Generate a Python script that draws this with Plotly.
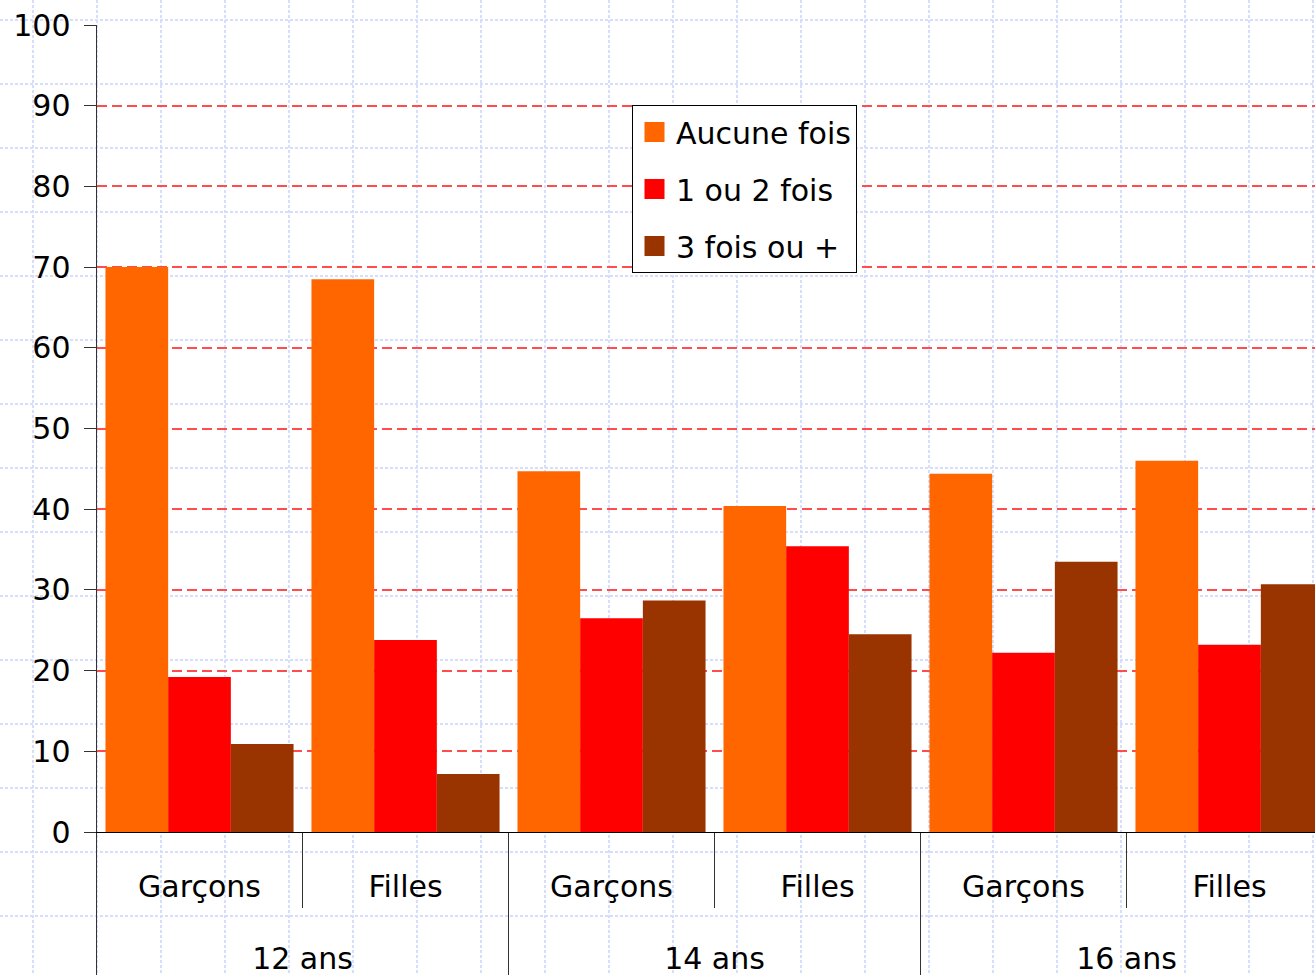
import plotly.graph_objects as go

# Survey shares (%) by age group and sex
ages = ["12 ans", "14 ans", "16 ans"]
sexes = ["Garçons", "Filles"]
aucune_fois = [70.0, 68.5, 44.7, 40.4, 44.4, 46.0]
une_deux_fois = [19.2, 23.8, 26.5, 35.4, 22.2, 23.2]
trois_fois_plus = [10.9, 7.2, 28.7, 24.5, 33.5, 30.7]

series_names = ["Aucune fois", "1 ou 2 fois", "3 fois ou +"]
series_values = [aucune_fois, une_deux_fois, trois_fois_plus]
colors = ["#ff6600", "#ff0000", "#993300"]

W, H = 1315, 975
FONT = "DejaVu Sans"
AXIS_GRAY = "#333333"

x_cat = [[a for a in ages for _ in sexes], [s for _ in ages for s in sexes]]
n_cat = len(x_cat[0])
n_sex = len(sexes)
inner_pos = list(range(n_cat))
inner_text = x_cat[1]
outer_pos = [i * n_sex + (n_sex - 1) / 2 for i in range(len(ages))]
inner_div = [i * n_sex + j + 0.5 for i in range(len(ages)) for j in range(n_sex - 1)]
outer_div = [i * n_sex - 0.5 for i in range(len(ages) + 1)]

# plot area starts at x=96.5 px, one category spans 206 px; the last one runs past the edge
X0_PX, CAT_PX = 96.5, 206.0
x_range = [-0.5, -0.5 + (W - X0_PX) / CAT_PX]

fig = go.Figure()

for name, vals, col in zip(series_names, series_values, colors):
    fig.add_trace(go.Bar(
        x=x_cat, y=vals, name=name, marker=dict(color=col, line=dict(width=0)),
        xaxis="x2", yaxis="y2", showlegend=False,
    ))

# legend entries with larger square swatches
for i, (name, col) in enumerate(zip(series_names, colors)):
    fig.add_trace(go.Scatter(
        x=[None], y=[None], mode="markers", name=name, legendgroup=f"g{i}",
        marker=dict(symbol="square", size=16, color=col, line=dict(color=col, width=4)),
        xaxis="x", yaxis="y", showlegend=True,
    ))

# empty traces so the two label axes get their own subplots
for xa in ("x3", "x4"):
    fig.add_trace(go.Scatter(x=[None], y=[None], mode="markers", xaxis=xa, yaxis="y2",
                             showlegend=False, hoverinfo="skip"))

paper_grid = dict(showgrid=True, gridcolor="#d6defc", gridwidth=1.5, griddash="3px,2px",
                  showticklabels=False, zeroline=False, showline=False,
                  fixedrange=True, automargin=False)

fig.update_layout(
    template="none",
    width=W, height=H,
    margin=dict(l=0, r=0, t=0, b=0, autoexpand=False),
    paper_bgcolor="white", plot_bgcolor="rgba(0,0,0,0)",
    font=dict(family=FONT, size=30, color="black"),
    barmode="group", bargap=0.087, bargroupgap=0,
    # page-wide graph-paper grid
    xaxis=dict(domain=[0, 1], range=[0, W], tick0=33, dtick=64, **paper_grid),
    yaxis=dict(domain=[0, 1], range=[H, 0], tick0=20, dtick=64, **paper_grid),
    # data axis (labels drawn by the overlay axes below)
    xaxis2=dict(type="multicategory", domain=[X0_PX / W, 1], anchor="y2",
                range=x_range, showline=True, linecolor="black", linewidth=1,
                showgrid=False, showticklabels=False, ticks="",
                showdividers=False, automargin=False),
    # first label row: sex, with short separators
    xaxis3=dict(overlaying="x2", anchor="y2", range=x_range, side="bottom",
                tickmode="array", tickvals=inner_pos, ticktext=inner_text,
                ticks="", ticklabelstandoff=34,
                tickfont=dict(size=30, family=FONT, color="black"),
                minor=dict(tickvals=inner_div, ticks="outside", ticklen=75,
                           tickcolor=AXIS_GRAY, tickwidth=1, showgrid=False),
                showgrid=False, showline=False, zeroline=False, automargin=False),
    # second label row: age group, with full-height separators
    xaxis4=dict(overlaying="x2", anchor="y2", range=x_range, side="bottom",
                tickmode="array", tickvals=outer_pos, ticktext=ages,
                ticks="", ticklabelstandoff=106,
                tickfont=dict(size=30, family=FONT, color="black"),
                minor=dict(tickvals=outer_div, ticks="outside", ticklen=160,
                           tickcolor=AXIS_GRAY, tickwidth=1, showgrid=False),
                showgrid=False, showline=False, zeroline=False, automargin=False),
    yaxis2=dict(domain=[(H - 832) / H, (H - 25) / H], anchor="x2", range=[0, 100],
                dtick=10, showgrid=True, gridcolor="#ff4d4d",
                griddash="10px,5px", gridwidth=1.5, zeroline=False,
                showline=True, linecolor=AXIS_GRAY, linewidth=1,
                ticks="outside", ticklen=12, tickcolor=AXIS_GRAY,
                ticklabelstandoff=7, automargin=False,
                tickfont=dict(size=30, family=FONT, color="black")),
    legend=dict(x=632 / W, y=1 - 105 / H, xanchor="left", yanchor="top",
                bgcolor="white", bordercolor="black", borderwidth=1,
                font=dict(size=30, family=FONT, color="black"), tracegroupgap=15,
                traceorder="grouped", itemwidth=33),
    showlegend=True,
)

fig.write_html("out.html")
